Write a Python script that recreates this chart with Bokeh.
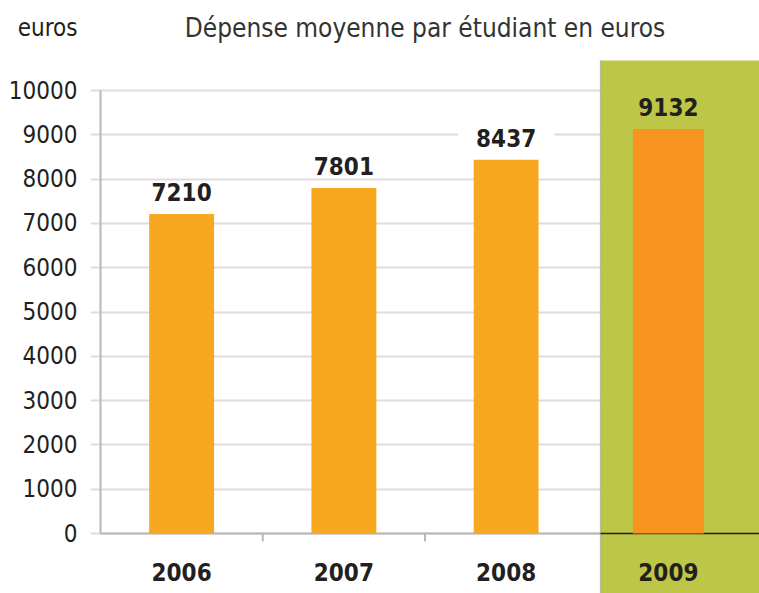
import math
from bokeh.plotting import figure
from bokeh.models import FactorRange, Range1d, FixedTicker, Label, ColumnDataSource
from bokeh.core.properties import value
from bokeh.embed import file_html
from bokeh.resources import INLINE

# ---- data ----
years = ["2006", "2007", "2008", "2009"]
spending = [7210, 7801, 8437, 9132]
highlight_year = "2009"
y_ticks = [0, 1000, 2000, 3000, 4000, 5000, 6000, 7000, 8000, 9000, 10000]
title_text = "Dépense moyenne par étudiant en euros"
unit_text = "euros"

# ---- style ----
FONT = "DejaVu Sans Condensed"
TXT = "#231f20"
BAR = "#f8a81e"
BAR_HL = "#f7931e"
GREEN = "#bdc646"
GRID = "#e0dcdc"
AXIS = "#bcb4b6"

Y0, Y1 = -1354, 12032          # visible value range (frame covers full page height)
PANEL_TOP = 10677              # top edge of the highlight panel
HEADER_Y = 11422               # vertical position of the header texts
X_PAD = 0.0616                 # factor-range padding (room for tick stubs)

p = figure(width=759, height=593,
           x_range=FactorRange(factors=years, range_padding=X_PAD,
                               range_padding_units="absolute"),
           y_range=Range1d(Y0, Y1),
           x_axis_location=None,
           output_backend="svg", toolbar_location=None,
           min_border_left=90, min_border_right=0,
           min_border_top=0, min_border_bottom=0)
p.outline_line_color = None
p.background_fill_color = "white"

# y axis (labels only; the unit label sits at the top of the axis)
ax = p.yaxis[0]
ax.ticker = FixedTicker(ticks=y_ticks + [HEADER_Y])
ax.major_label_overrides = {HEADER_Y: unit_text}
ax.axis_line_color = None
ax.major_tick_line_color = None
ax.major_tick_out = 0
ax.major_tick_in = 0
ax.minor_tick_line_color = None
ax.major_label_text_font = FONT
ax.major_label_text_font_size = "24px"
ax.major_label_text_color = TXT
ax.major_label_standoff = 13

p.ygrid.ticker = FixedTicker(ticks=y_ticks)
p.ygrid.grid_line_color = GRID
p.ygrid.grid_line_width = 2
p.xgrid.grid_line_color = None

# axis rule from 0 to 10000, and baseline
AX_X = (years[0], -0.5)
HL_LEFT = (highlight_year, -0.418)
HL_RIGHT = (highlight_year, 0.6)
p.segment(x0=[AX_X], x1=[AX_X], y0=[y_ticks[0]], y1=[y_ticks[-1]],
          line_color=AXIS, line_width=2)
p.segment(x0=[AX_X], x1=[HL_LEFT], y0=[0], y1=[0], line_color=AXIS, line_width=2)

# highlight panel
p.quad(left=[HL_LEFT], right=[HL_RIGHT], bottom=[Y0], top=[PANEL_TOP],
       fill_color=GREEN, line_color=None)
p.segment(x0=[HL_LEFT], x1=[HL_LEFT], y0=[Y0], y1=[PANEL_TOP],
          line_color="#9a9a8a", line_dash="1 1", line_width=1.5)
p.segment(x0=[HL_LEFT], x1=[HL_RIGHT], y0=[0], y1=[0], line_color=TXT, line_width=1.5)

# boundary ticks on baseline
p.ray(x=[(y, -0.5) for y in years[1:3]], y=[0, 0], length=8, length_units="screen",
      angle=-math.pi / 2, line_color=AXIS, line_width=2)

# bars
colors = [BAR_HL if y == highlight_year else BAR for y in years]
widths = [0.437 if y == highlight_year else 0.40 for y in years]
src = ColumnDataSource(dict(x=years, top=spending, color=colors, w=widths,
                            label=[str(v) for v in spending],
                            bg=["rgba(0,0,0,0)" if y == highlight_year else "white" for y in years]))
p.vbar(x="x", top="top", width="w", bottom=0, fill_color="color", line_color=None, source=src)

# value labels
p.text(x="x", y="top", text="label", source=src, text_align="center", text_baseline="bottom",
       y_offset=-11, text_font=value(FONT), text_font_style="bold", text_font_size="24px",
       text_color=TXT, background_fill_color="bg", padding=(18, 2))

# category labels
p.text(x=years, y=[0] * len(years), text=years, text_align="center", text_baseline="top",
       y_offset=29, text_font=value(FONT), text_font_style="bold", text_font_size="24px",
       text_color=TXT)

# title
p.add_layout(Label(x=2.0, y=HEADER_Y, text=title_text,
                   text_align="center", text_baseline="middle", text_font=FONT,
                   text_font_size="26px", text_color="#333333"))

open("out.html", "w").write(file_html(p, INLINE))
